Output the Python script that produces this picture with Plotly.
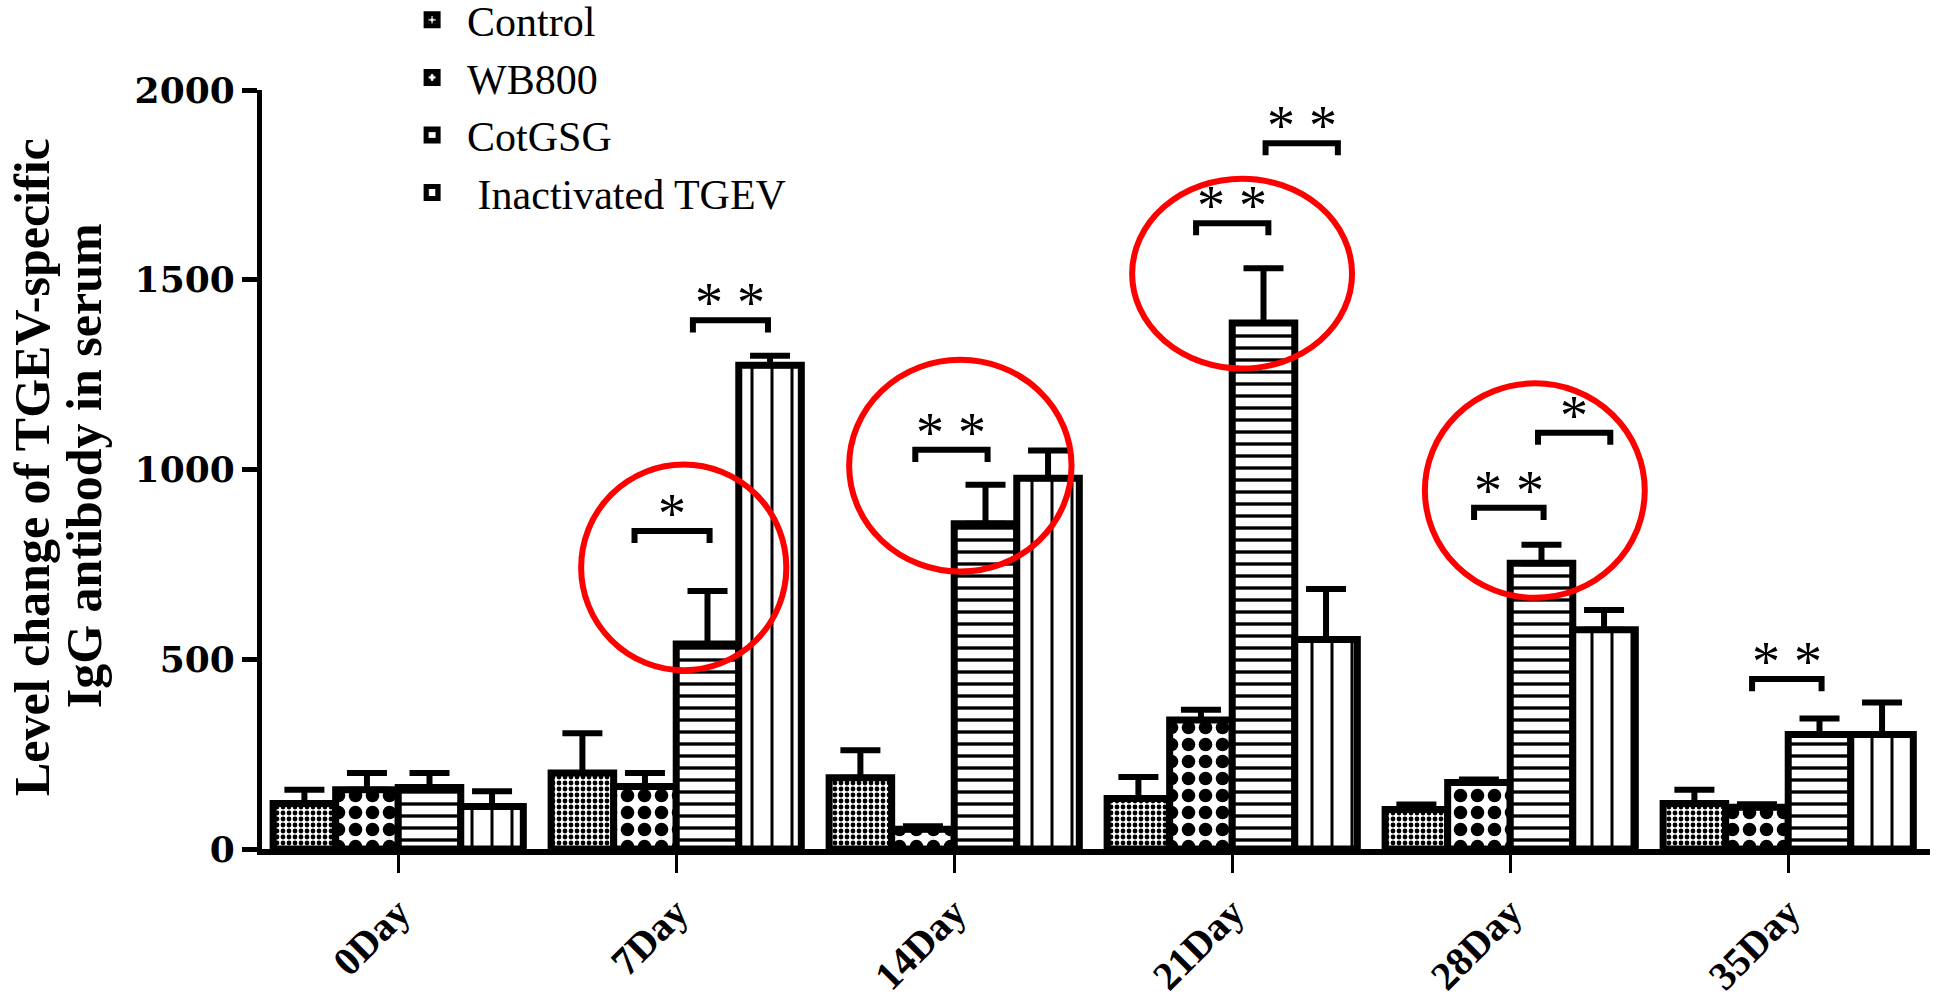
import plotly.graph_objects as go

days = ["0Day", "7Day", "14Day", "21Day", "28Day", "35Day"]
groups = ["Control", "WB800", "CotGSG", " Inactivated TGEV"]

control = [120, 200, 188, 133, 104, 120]
control_err = [36, 105, 72, 57, 13, 36]
wb800 = [156, 165, 52, 340, 175, 110]
wb800_err = [44, 35, 8, 27, 8, 8]
cotgsg = [162, 540, 857, 1386, 753, 302]
cotgsg_err = [38, 140, 103, 144, 49, 42]
inact = [112, 1275, 977, 552, 578, 302]
inact_err = [40, 25, 73, 133, 52, 84]

# significance brackets: (x_left, x_right, y, label)
brackets_x0 = [0.85, 1.06, 1.86, 2.87, 3.12, 3.87, 4.10, 4.87]
brackets_x1 = [1.12, 1.33, 2.12, 3.13, 3.38, 4.12, 4.36, 5.12]
brackets_y = [838, 1393, 1052, 1649, 1860, 899, 1097, 448]
brackets_txt = ["*", "* *", "* *", "* *", "* *", "* *", "*", "* *"]

# highlight ellipses: x0, x1, y0, y1
circ_x0 = [0.658, 1.622, 2.640, 3.693]
circ_x1 = [1.396, 2.422, 3.431, 4.484]
circ_y0 = [471, 731, 1266, 662]
circ_y1 = [1013, 1289, 1766, 1227]

values = [control, wb800, cotgsg, inact]
errors = [control_err, wb800_err, cotgsg_err, inact_err]
patterns = [
    dict(shape=".", size=6, solidity=0.5, fgcolor="black", bgcolor="white", fillmode="replace"),
    dict(shape=".", size=17, solidity=0.5, fgcolor="black", bgcolor="white", fillmode="replace"),
    dict(shape="-", size=12, solidity=0.28, fgcolor="black", bgcolor="white", fillmode="replace"),
    dict(shape="|", size=20, solidity=0.15, fgcolor="black", bgcolor="white", fillmode="replace"),
]

x = list(range(len(days)))
fig = go.Figure()
for name, v, e, p in zip(groups, values, errors, patterns):
    fig.add_trace(go.Bar(
        x=x, y=v, name=name,
        marker=dict(color="white", line=dict(color="black", width=7), pattern=p),
        error_y=dict(type="data", symmetric=False, array=e, arrayminus=[0] * len(e),
                     color="black", thickness=6, width=20),
    ))

shapes = []
annotations = []
leg = 32
for x0, x1, y, t in zip(brackets_x0, brackets_x1, brackets_y, brackets_txt):
    shapes.append(dict(type="path", xref="x", yref="y",
                       path=f"M{x0},{y - leg} L{x0},{y} L{x1},{y} L{x1},{y - leg}",
                       line=dict(color="black", width=6)))
    annotations.append(dict(x=(x0 + x1) / 2, y=y, xref="x", yref="y", text=t,
                            showarrow=False, yanchor="bottom", yshift=-16,
                            font=dict(family="Liberation Serif", size=56, color="black")))
for x0, x1, y0, y1 in zip(circ_x0, circ_x1, circ_y0, circ_y1):
    shapes.append(dict(type="circle", xref="x", yref="y", x0=x0, x1=x1, y0=y0, y1=y1,
                       line=dict(color="#ff0000", width=6)))

annotations.append(dict(x=-0.138, y=0.503, xref="paper", yref="paper",
                        xanchor="center", yanchor="middle",
                        text="<b>Level change of TGEV-specific</b>", textangle=-90,
                        showarrow=False, font=dict(family="Liberation Serif", size=50, color="black")))
annotations.append(dict(x=-0.107, y=0.505, xref="paper", yref="paper",
                        xanchor="center", yanchor="middle",
                        text="<b>IgG antibody in serum</b>", textangle=-90,
                        showarrow=False, font=dict(family="Liberation Serif", size=50, color="black")))

fig.update_layout(
    width=1936, height=1005,
    margin=dict(l=262, r=6, t=90, b=156, autoexpand=False),
    paper_bgcolor="white", plot_bgcolor="white",
    barmode="group", bargap=0.1, bargroupgap=0,
    shapes=shapes, annotations=annotations,
    showlegend=True,
    legend=dict(x=0.081, y=1.137, xanchor="left", yanchor="top",
                font=dict(family="Liberation Serif", size=42, color="black"),
                bgcolor="rgba(0,0,0,0)", itemwidth=60, tracegroupgap=0),
    xaxis=dict(range=[-0.49, 5.51], tickvals=x, ticktext=days, tickangle=-45,
               showline=True, linecolor="black", linewidth=6,
               ticks="outside", ticklen=18, tickwidth=3, tickcolor="black",
               showgrid=False, zeroline=False,
               tickfont=dict(family="Liberation Serif", size=40, color="black", weight="bold")),
    yaxis=dict(range=[0, 2000], tickvals=[0, 500, 1000, 1500, 2000],
               showline=True, linecolor="black", linewidth=5,
               ticks="outside", ticklen=15, tickwidth=5, tickcolor="black",
               showgrid=False, zeroline=False,
               tickfont=dict(family="DejaVu Serif", size=36, color="black", weight="bold")),
)

fig.write_html("out.html")
